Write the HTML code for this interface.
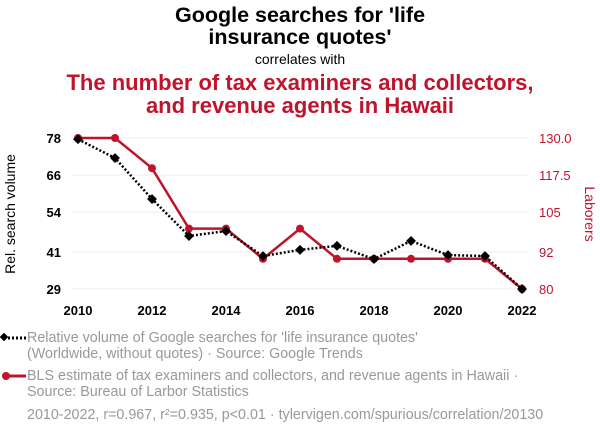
<!DOCTYPE html>
<html><head><meta charset="utf-8"><style>
body{margin:0;background:#fff;width:600px;height:436px;overflow:hidden;font-family:"Liberation Sans",sans-serif}
</style></head><body>
<svg width="600" height="436" font-family="Liberation Sans, sans-serif">
<text x="300" y="22" text-anchor="middle" font-size="21.5" font-weight="bold" fill="#000">Google searches for 'life</text>
<text x="300" y="44" text-anchor="middle" font-size="21.5" font-weight="bold" fill="#000">insurance quotes'</text>
<text x="300" y="64" text-anchor="middle" font-size="14" fill="#000">correlates with</text>
<text x="300" y="90" text-anchor="middle" font-size="22" font-weight="bold" fill="#c0142c">The number of tax examiners and collectors,</text>
<text x="300" y="113" text-anchor="middle" font-size="22" font-weight="bold" fill="#c0142c">and revenue agents in Hawaii</text>
<g id="grid"></g><g id="axes"></g><g id="series"></g>
<text transform="translate(15,214) rotate(-90)" text-anchor="middle" font-size="14" fill="#000">Rel. search volume</text>
<text transform="translate(585,214) rotate(90)" text-anchor="middle" font-size="14" fill="#c0142c">Laborers</text>
<g>
<line x1="4" y1="338" x2="26" y2="338" stroke="#000" stroke-width="3" stroke-dasharray="2,2"/>
<rect x="1" y="334" width="6" height="6" transform="rotate(45 4 337)" fill="#000"/>
<text x="27" y="342" font-size="14.3" fill="#999">Relative volume of Google searches for 'life insurance quotes'</text>
<text x="27" y="358" font-size="14.3" fill="#999">(Worldwide, without quotes) · Source: Google Trends</text></g>
<g>
<line x1="4" y1="376" x2="26" y2="376" stroke="#c0142c" stroke-width="3"/>
<circle cx="6" cy="376" r="4" fill="#c0142c"/>
<text x="27" y="380" font-size="14.3" fill="#999">BLS estimate of tax examiners and collectors, and revenue agents in Hawaii ·</text>
<text x="27" y="396" font-size="14.3" fill="#999">Source: Bureau of Larbor Statistics</text></g>
<text x="27" y="419" font-size="14.3" fill="#999">2010-2022, r=0.967, r²=0.935, p&lt;0.01 · tylervigen.com/spurious/correlation/20130</text>
</svg>
<script>
const years=[2010,2011,2012,2013,2014,2015,2016,2017,2018,2019,2020,2021,2022];
const google=[77.6,71.5,58.2,46.2,47.8,39.7,41.7,43,38.7,44.6,40,39.7,29];
const laborers=[130,130,120,100,100,90,100,90,90,90,90,90,80];
const xTicks=[2010,2012,2014,2016,2018,2020,2022];
const leftTicks=[29,41,54,66,78];
const rightTicks=["80","92","105","117.5","130.0"];
const NS="http://www.w3.org/2000/svg";
const x=v=>78+(v-2010)/12*444;
const yl=v=>289-(v-29)/(78-29)*151;
const yr=v=>289-(v-80)/50*151;
function mk(t,a,p){const e=document.createElementNS(NS,t);for(const k in a)e.setAttribute(k,a[k]);document.getElementById(p).appendChild(e);return e;}
leftTicks.forEach((t,i)=>{
 const g=mk('line',{x1:72,x2:528,y1:yl(t),y2:yl(t),stroke:'#eee'},'grid');
 
 
 const a=mk('text',{x:61,y:yl(t)+5,'text-anchor':'end','font-size':13,'font-weight':'bold'},'axes');a.textContent=t;
 
 
 const b=mk('text',{x:539,y:yl(t)+5,'font-size':13,fill:'#c0142c'},'axes');b.textContent=rightTicks[i];
 
 
});
xTicks.forEach(t=>{
 const a=mk('text',{x:x(t),y:315,'text-anchor':'middle','font-size':13,'font-weight':'bold'},'axes');a.textContent=t;
 
 
});
const rl=mk('polyline',{points:years.map((y,i)=>x(y)+','+yr(laborers[i])).join(' '),fill:'none',stroke:'#c0142c','stroke-width':2.5},'series');


years.forEach((y,i)=>{const c=mk('circle',{cx:x(y),cy:yr(laborers[i]),r:4,fill:'#c0142c'},'series');
 
 });
const gl=mk('polyline',{points:years.map((y,i)=>x(y)+','+yl(google[i])).join(' '),fill:'none',stroke:'#000','stroke-width':2.5,'stroke-dasharray':'2,2'},'series');


years.forEach((y,i)=>{const cx=x(y),cy=yl(google[i]);
 const r=mk('rect',{x:cx-3.5,y:cy-3.5,width:7,height:7,fill:'#000',transform:`rotate(45 ${cx} ${cy})`},'series');
 
 });
</script>
</body></html>
